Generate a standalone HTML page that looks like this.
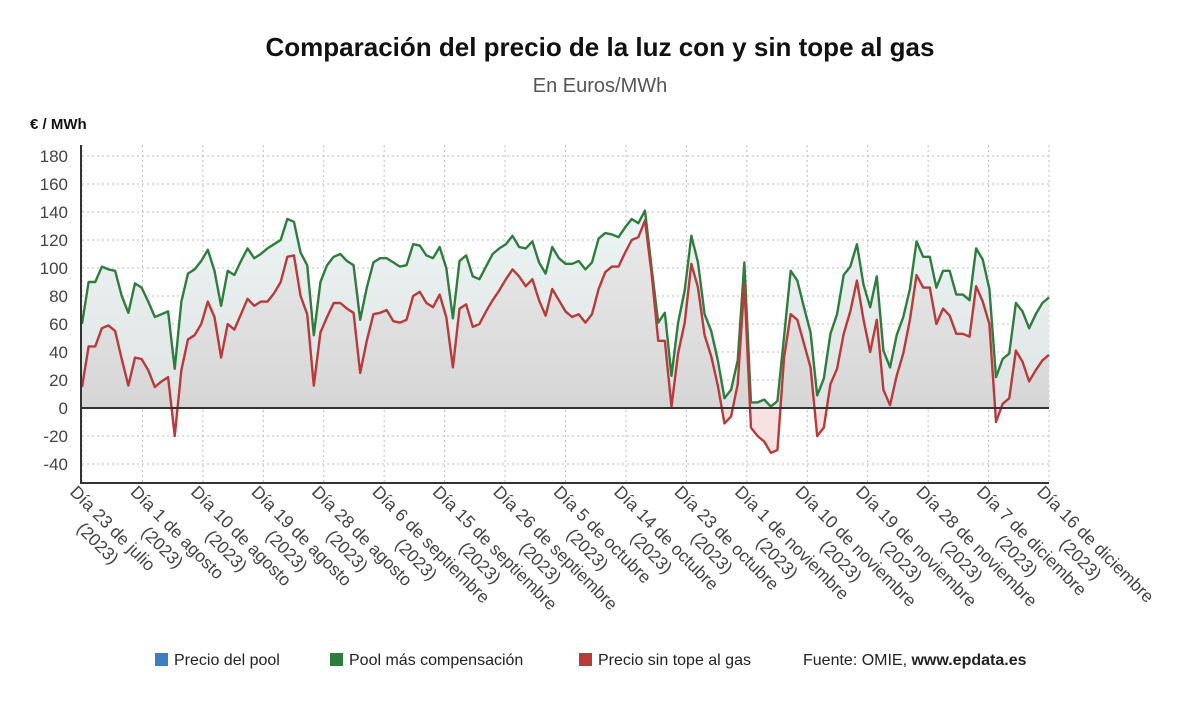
<!DOCTYPE html>
<html><head><meta charset="utf-8">
<style>
body{margin:0;background:#fff;font-family:"Liberation Sans",sans-serif;}
svg text{font-family:"Liberation Sans",sans-serif;}
</style></head>
<body>
<svg id="chart" width="1200" height="705" viewBox="0 0 1200 705" xmlns="http://www.w3.org/2000/svg">
<defs>
<linearGradient id="gFillG" gradientUnits="userSpaceOnUse" x1="0" y1="190" x2="0" y2="408">
<stop offset="0" stop-color="#eef6f6"/><stop offset="1" stop-color="#dfe3e3"/>
</linearGradient>
<linearGradient id="gFillR" gradientUnits="userSpaceOnUse" x1="0" y1="200" x2="0" y2="408">
<stop offset="0" stop-color="#ececec"/><stop offset="1" stop-color="#d6d6d6"/>
</linearGradient>
<clipPath id="clipPos"><rect x="0" y="0" width="1200" height="408"/></clipPath>
<clipPath id="clipNeg"><rect x="0" y="408" width="1200" height="300"/></clipPath>
</defs>
<text x="600" y="56" text-anchor="middle" font-size="26" font-weight="bold" fill="#111">Comparación del precio de la luz con y sin tope al gas</text>
<text x="600" y="92" text-anchor="middle" font-size="20" fill="#555">En Euros/MWh</text>
<text x="30" y="129" font-size="15" font-weight="bold" fill="#111">€ / MWh</text>
<g id="grid"></g>
<g id="areas"></g>
<g id="lines"></g>
<g id="axes"></g>
<g id="xlabels"></g>
<g>
<rect x="155" y="653" width="13" height="13" fill="#3a7fbf"/>
<text x="174" y="665" font-size="16" fill="#222">Precio del pool</text>
<rect x="330" y="653" width="13" height="13" fill="#2e7d3e"/>
<text x="349" y="665" font-size="16" fill="#222">Pool más compensación</text>
<rect x="579" y="653" width="13" height="13" fill="#b83a3a"/>
<text x="598" y="665" font-size="16" fill="#222">Precio sin tope al gas</text>
<text x="803" y="665" font-size="16" fill="#222">Fuente: OMIE, <tspan font-weight="bold">www.epdata.es</tspan></text>
</g>
</svg>
<script>
const tickLabels = ["Día 23 de julio","Día 1 de agosto","Día 10 de agosto","Día 19 de agosto","Día 28 de agosto","Día 6 de septiembre","Día 15 de septiembre","Día 26 de septiembre","Día 5 de octubre","Día 14 de octubre","Día 23 de octubre","Día 1 de noviembre","Día 10 de noviembre","Día 19 de noviembre","Día 28 de noviembre","Día 7 de diciembre","Día 16 de diciembre"];
const yTicks = [-40,-20,0,20,40,60,80,100,120,140,160,180];
const poolCompensation = [60,90,90,101,99,98,80,68,89,86,76,65,67,69,28,76,96,99,105,113,98,73,98,95,105,114,107,110,114,117,120,135,133,111,102,52,90,102,108,110,105,102,63,86,104,107,107,104,101,
102,117,116,109,107,115,100,64,105,109,94,92,101,110,114,117,123,115,114,119,104,96,115,107,103,103,105,99,104,121,125,124,122,129,135,132,141,100,61,68,23,61,84,123,104,67,55,34,
7,13,34,104,4,4,6,1,5,51,98,91,72,54,9,21,53,67,95,101,117,88,72,94,41,29,52,65,85,119,108,108,86,98,98,81,81,77,114,106,85,22,35,39,75,69,57,67,75,79];
const priceNoCap = [15,44,44,57,59,55,35,16,36,35,27,15,19,22,-20,27,49,52,60,76,65,36,60,56,67,78,73,76,76,82,90,108,109,80,67,16,54,65,75,75,71,68,25,48,67,68,70,62,61,
63,80,83,75,72,81,65,29,71,74,58,60,69,77,84,92,99,94,87,92,77,66,85,77,69,65,67,61,67,85,97,101,101,111,120,122,134,96,48,48,1,39,61,103,86,52,37,16,
-11,-6,17,89,-14,-20,-24,-32,-30,36,67,63,46,29,-20,-14,17,28,53,69,91,63,40,63,13,2,23,39,63,95,86,86,60,71,66,53,53,51,87,76,60,-10,3,7,41,33,19,27,34,38];

const NS="http://www.w3.org/2000/svg";
const X0=82, X1=1049, Y0=408, PXU=1.4, YBOT=483, YTOP=145;
const n=poolCompensation.length;
function xScale(i){return X0+(X1-X0)*i/(n-1);}
function yScale(v){return Y0-v*PXU;}
function tickX(k){return X0+(X1-X0)*k/(tickLabels.length-1);}
function mk(tag,attrs,parent){const e=document.createElementNS(NS,tag);for(const k in attrs)e.setAttribute(k,attrs[k]);parent.appendChild(e);return e;}

const grid=document.getElementById('grid');
yTicks.forEach(v=>{
  const y=yScale(v);
  if(v!==0){const l=mk('line',{x1:X0,x2:X1,y1:y,y2:y,stroke:'#bdbdbd','stroke-dasharray':'2,3','stroke-width':1},grid);
  
  }
  const t=mk('text',{x:68,y:y+6,'text-anchor':'end','font-size':17,fill:'#444'},grid);
  t.textContent=v;
  
  
});
tickLabels.forEach((lab,k)=>{
  const x=tickX(k);
  const l=mk('line',{x1:x,x2:x,y1:YTOP,y2:YBOT,stroke:'#bdbdbd','stroke-dasharray':'2,3','stroke-width':1},grid);
  
  
});

function pathFor(arr){return arr.map((v,i)=>(i?'L':'M')+xScale(i).toFixed(2)+','+yScale(v).toFixed(2)).join(' ');}
function areaFor(arr){return pathFor(arr)+' L'+xScale(n-1)+','+Y0+' L'+X0+','+Y0+' Z';}
const areas=document.getElementById('areas');
const aG=mk('path',{d:areaFor(poolCompensation),fill:'url(#gFillG)'},areas);


const aR=mk('path',{d:areaFor(priceNoCap),fill:'url(#gFillR)','clip-path':'url(#clipPos)'},areas);


const aRn=mk('path',{d:areaFor(priceNoCap),fill:'#f5e1e1','clip-path':'url(#clipNeg)'},areas);



const axes=document.getElementById('axes');
const zl=mk('line',{x1:X0,x2:X1,y1:Y0,y2:Y0,stroke:'#333','stroke-width':2},axes);



const lines=document.getElementById('lines');
const lG=mk('path',{d:pathFor(poolCompensation),fill:'none',stroke:'#2e7d3e','stroke-width':2.4,'stroke-linejoin':'round'},lines);


const lR=mk('path',{d:pathFor(priceNoCap),fill:'none',stroke:'#b83a3a','stroke-width':2.4,'stroke-linejoin':'round'},lines);



const ya=mk('line',{x1:X0-1,x2:X0-1,y1:YTOP,y2:YBOT,stroke:'#333','stroke-width':2},axes);


const xa=mk('line',{x1:X0-2,x2:X1,y1:YBOT,y2:YBOT,stroke:'#333','stroke-width':2},axes);



const xl=document.getElementById('xlabels');
tickLabels.forEach((lab,k)=>{
  const x=tickX(k);
  const g=mk('g',{transform:'translate('+(x-13)+',493) rotate(45)'},xl);
  
  
  const t1=mk('text',{x:0,y:0,'font-size':17.5,fill:'#444'},g);
  t1.textContent=lab;
  const w=t1.getComputedTextLength();
  const t2=mk('text',{x:w/2,y:21,'text-anchor':'middle','font-size':17.5,fill:'#444'},g);
  t2.textContent='(2023)';
});
</script>
</body></html>
